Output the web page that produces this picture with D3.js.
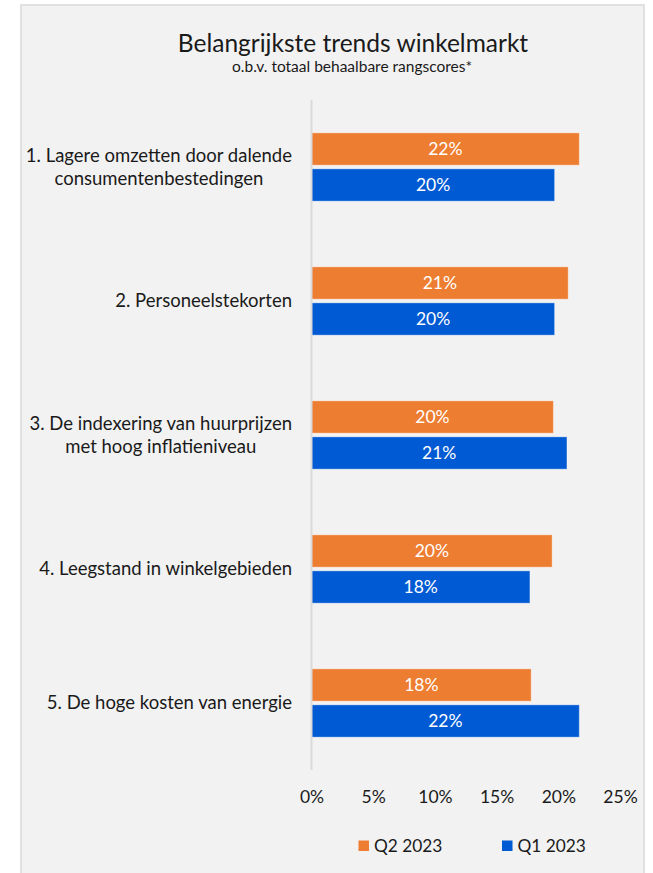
<!DOCTYPE html>
<html>
<head>
<meta charset="utf-8">
<script src="https://cdn.jsdelivr.net/npm/d3@7"></script>
<style>
  html, body { margin: 0; padding: 0; background: #ffffff; }
  svg { display: block; }
  text { font-family: Lato, "Open Sans", sans-serif; }
</style>
</head>
<body>
<svg id="chart" width="653" height="873"></svg>
<script>
// ---- data ----
const categories = [
  ["1. Lagere omzetten door dalende", "consumentenbestedingen"],
  ["2. Personeelstekorten"],
  ["3. De indexering van huurprijzen", "met hoog inflatieniveau"],
  ["4. Leegstand in winkelgebieden"],
  ["5. De hoge kosten van energie"]
];
const seriesNames = ["Q2 2023", "Q1 2023"];
const q2Values = [21.7, 20.8, 19.6, 19.5, 17.8];
const q1Values = [19.7, 19.7, 20.7, 17.7, 21.7];
const tickValues = [0, 5, 10, 15, 20, 25];
const colors = ["#ED7D31", "#005AD3"];
const title = "Belangrijkste trends winkelmarkt";
const subtitle = "o.b.v. totaal behaalbare rangscores*";

// ---- layout ----
const svg = d3.select("#chart");
const plot = { left: 311.5, right: 620, top: 100, bottom: 770 };

svg.append("rect").attr("x", 21).attr("y", 5).attr("width", 623).attr("height", 900)
  .attr("fill", "#F2F2F2").attr("stroke", "#D9D9D9").attr("stroke-width", 1.5);

svg.append("text").attr("x", 353).attr("y", 52).attr("text-anchor", "middle")
  .attr("font-size", 24.5).attr("fill", "#1a1a1a").text(title);
svg.append("text").attr("x", 352).attr("y", 72).attr("text-anchor", "middle")
  .attr("font-size", 15.5).attr("fill", "#1a1a1a").text(subtitle);

const x = d3.scaleLinear().domain([0, 25]).range([plot.left, plot.right]);
const idx = categories.map((d, i) => i);
const y = d3.scaleBand().domain(idx).range([plot.top, plot.bottom]).paddingInner(0).paddingOuter(0);
const yInner = d3.scaleBand().domain(seriesNames).range([0, y.bandwidth()])
  .paddingInner(0.103).paddingOuter(0.9125);

const rows = idx.map(i => ({ i, vals: [q2Values[i], q1Values[i]] }));

// bars
const g = svg.append("g");
rows.forEach(r => {
  r.vals.forEach((v, s) => {
    const yy = y(r.i) + yInner(seriesNames[s]);
    g.append("rect")
      .attr("x", x(0)).attr("y", yy)
      .attr("width", x(v) - x(0)).attr("height", yInner.bandwidth())
      .attr("fill", colors[s])
      .attr("stroke", "rgba(255,255,255,0.35)").attr("stroke-width", 1);
    g.append("text")
      .attr("x", (x(0) + x(v)) / 2).attr("y", yy + yInner.bandwidth() / 2)
      .attr("dy", "0.35em").attr("text-anchor", "middle")
      .attr("font-size", 17.5).attr("fill", "#ffffff")
      .text(Math.round(v) + "%");
  });
});

// axis line (vertical category axis)
svg.append("line").attr("x1", x(0)).attr("x2", x(0))
  .attr("y1", plot.top).attr("y2", plot.bottom)
  .attr("stroke", "#D9D9D9").attr("stroke-width", 2);

// value axis labels
const xAxis = d3.axisBottom(x).tickValues(tickValues).tickSize(0).tickPadding(0)
  .tickFormat(d => d + "%");
const ax = svg.append("g").attr("transform", `translate(0, ${plot.bottom})`).call(xAxis);
ax.select(".domain").remove();
ax.selectAll("text").attr("font-size", 17.5).attr("fill", "#1a1a1a")
  .attr("font-family", "Lato, 'Open Sans', sans-serif")
  .attr("dy", null).attr("y", 33);

// category labels: block right-aligned, lines centered within block
const labelRight = 292;
const lineH = 23.5;
categories.forEach((lines, i) => {
  const cy = y(i) + y.bandwidth() / 2;
  const tg = svg.append("g");
  const texts = lines.map((ln, k) => tg.append("text")
    .attr("font-size", 18.5).attr("fill", "#1a1a1a").attr("text-anchor", "middle")
    .attr("y", cy + (k - (lines.length - 1) / 2) * lineH).attr("dy", "0.35em").text(ln));
  const maxW = d3.max(texts, t => t.node().getComputedTextLength());
  texts.forEach(t => t.attr("x", labelRight - maxW / 2));
});

// legend
const legendX = [358.5, 502];
seriesNames.forEach((s, k) => {
  svg.append("rect").attr("x", legendX[k]).attr("y", 840.5).attr("width", 10.5).attr("height", 10.5)
    .attr("fill", colors[k]);
  svg.append("text").attr("x", legendX[k] + 15.5).attr("y", 846).attr("dy", "0.35em")
    .attr("font-size", 17.3).attr("fill", "#1a1a1a").text(s);
});
</script>
</body>
</html>
